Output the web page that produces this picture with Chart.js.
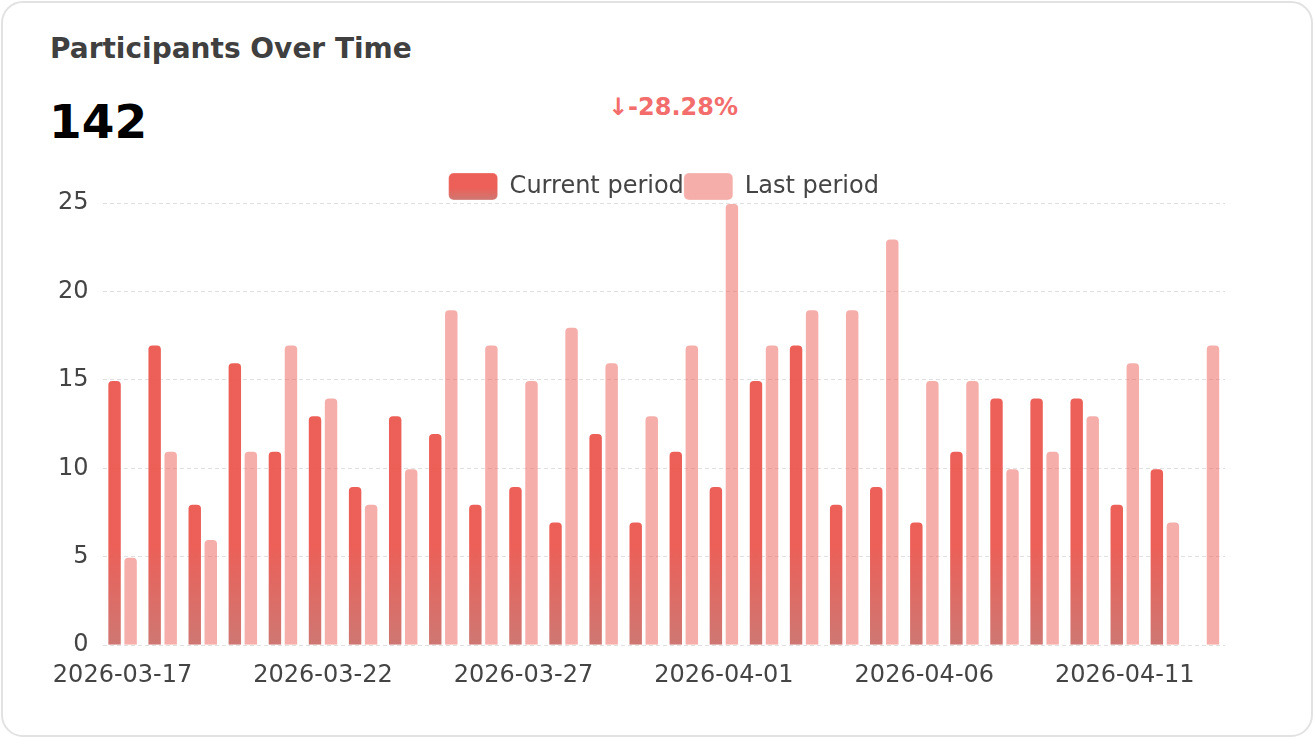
<!DOCTYPE html>
<html>
<head>
<meta charset="utf-8">
<script src="https://cdn.jsdelivr.net/npm/chart.js@4.4.1/dist/chart.umd.min.js"></script>
<style>
  html, body { margin: 0; padding: 0; background: #fff; }
  body { width: 1314px; height: 738px; position: relative; overflow: hidden; font-family: "DejaVu Sans", sans-serif; }
  .card { position: absolute; left: 1px; top: 1px; width: 1312px; height: 736px; border: 2px solid #e2e2e2; border-radius: 22px; box-sizing: border-box; }
  .title { position: absolute; left: 50px; top: 32px; font-size: 28px; font-weight: bold; color: #404040; }
  .total { position: absolute; left: 49px; top: 94px; font-size: 47px; font-weight: bold; color: #000; }
  .delta { position: absolute; left: 608px; top: 93px; font-size: 24px; font-weight: bold; color: #f26d6b; }
  .wrap { position: absolute; left: 40px; top: 173px; width: 1248px; height: 533px; }
</style>
</head>
<body>
<div class="card"></div>
<div class="title">Participants Over Time</div>
<div class="total">142</div>
<div class="delta">↓-28.28%</div>
<div class="wrap"><canvas id="chart"></canvas></div>
<script>
// chart data
const days = ["2026-03-17", "2026-03-18", "2026-03-19", "2026-03-20", "2026-03-21", "2026-03-22", "2026-03-23",
  "2026-03-24", "2026-03-25", "2026-03-26", "2026-03-27", "2026-03-28", "2026-03-29", "2026-03-30", "2026-03-31",
  "2026-04-01", "2026-04-02", "2026-04-03", "2026-04-04", "2026-04-05", "2026-04-06", "2026-04-07", "2026-04-08",
  "2026-04-09", "2026-04-10", "2026-04-11", "2026-04-12", "2026-04-13"];
const currentPeriod = [15, 17, 8, 16, 11, 13, 9, 13, 12, 8, 9, 7, 12, 7, 11, 9, 15, 17, 8, 9, 7, 11, 14, 14, 14, 8, 10, null];
const lastPeriod = [5, 11, 6, 11, 17, 14, 8, 10, 19, 17, 15, 18, 16, 13, 17, 25, 17, 19, 19, 23, 15, 15, 10, 11, 13, 16, 7, 17];
const yTicks = [0, 5, 10, 15, 20, 25];

const RED = "rgba(235,87,79,0.95)";
const RED_DARK = "rgba(204,112,107,0.95)";
const PINK = "rgba(236,94,86,0.5)";
const BOX_H = 27;

Chart.defaults.font.family = "'DejaVu Sans', sans-serif";
Chart.defaults.font.size = 24;
Chart.defaults.color = "#444";

function redFill(c) {
  const area = c.chart.chartArea;
  if (!area) return RED;
  const g = c.chart.ctx.createLinearGradient(0, area.bottom, 0, area.bottom - 100);
  g.addColorStop(0, RED_DARK);
  g.addColorStop(1, RED);
  return g;
}

// legend adds a fixed 10px below itself; trim part of it
const tightLegend = {
  id: "tightLegend",
  afterInit(chart) {
    const lg = chart.legend;
    if (!lg || lg._tight) return;
    const fit = lg.fit;
    lg.fit = function () { fit.call(this); this.height -= 7; };
    lg._tight = true;
  },
};

function legendLabels(chart) {
  const items = Chart.defaults.plugins.legend.labels.generateLabels(chart);
  const top = chart.options.layout.padding.top || 0;
  const g = chart.ctx.createLinearGradient(0, top + BOX_H, 0, top);
  g.addColorStop(0, RED_DARK);
  g.addColorStop(0.45, RED);
  items[0].fillStyle = g;
  return items;
}

new Chart(document.getElementById("chart"), {
  type: "bar",
  data: {
    labels: days,
    datasets: [
      { label: "Current period", data: currentPeriod, backgroundColor: redFill,
        borderColor: "rgba(255,255,255,0.3)", borderWidth: 1, borderRadius: 5, borderSkipped: "start" },
      { label: "Last period", data: lastPeriod, backgroundColor: PINK,
        borderColor: "rgba(255,255,255,0.3)", borderWidth: 1, borderRadius: 5, borderSkipped: "start" },
    ],
  },
  options: {
    responsive: true, maintainAspectRatio: false, animation: false,
    layout: { padding: { left: 4, right: 63, top: 0, bottom: 8 } },
    scales: {
      x: {
        grid: { display: false }, border: { display: false },
        ticks: { autoSkip: false, maxRotation: 0, padding: 8, color: "#444",
          callback: (v, i) => (i % 5 === 0 ? days[i] : null) },
      },
      y: {
        min: yTicks[0], max: yTicks[yTicks.length - 1],
        afterBuildTicks: (s) => { s.ticks = yTicks.map((v) => ({ value: v })); },
        grid: { color: "#e0e0e0", drawTicks: false }, border: { display: false, dash: [4, 3] },
        ticks: { padding: 14, color: "#444" },
      },
    },
    plugins: {
      legend: { fullSize: false,
        labels: { boxWidth: 49, boxHeight: BOX_H, padding: 0, color: "#444", font: { size: 24 },
          useBorderRadius: true, borderRadius: 5, generateLabels: legendLabels } },
      tooltip: { enabled: false },
    },
  },
  plugins: [tightLegend],
});
</script>
</body>
</html>
